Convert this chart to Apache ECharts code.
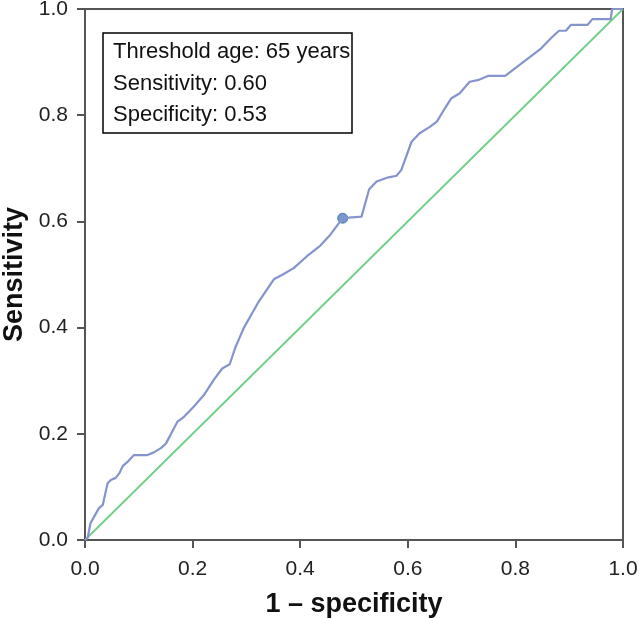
<!DOCTYPE html>
<html><head><meta charset="utf-8">
<script src="https://cdn.jsdelivr.net/npm/echarts@6/dist/echarts.min.js"></script>
<style>html,body{margin:0;padding:0;background:#fff}#c{width:639px;height:618px}</style>
</head><body><div id="c"></div>
<script>
var rocX = [0,0.005,0.010,0.017,0.026,0.033,0.042,0.048,0.057,0.064,0.070,0.079,0.091,0.116,0.128,0.141,0.150,0.159,0.172,0.184,0.202,0.221,0.239,0.255,0.269,0.280,0.295,0.323,0.351,0.366,0.388,0.412,0.437,0.456,0.479,0.514,0.528,0.542,0.564,0.579,0.588,0.607,0.622,0.641,0.654,0.669,0.681,0.696,0.715,0.730,0.749,0.781,0.795,0.820,0.848,0.866,0.881,0.894,0.903,0.934,0.943,0.977,0.980,1.0];
var rocY = [0,0.004,0.031,0.044,0.060,0.066,0.107,0.113,0.117,0.126,0.139,0.147,0.160,0.160,0.165,0.173,0.181,0.198,0.223,0.232,0.251,0.273,0.301,0.323,0.331,0.364,0.399,0.449,0.491,0.499,0.512,0.534,0.554,0.575,0.606,0.609,0.660,0.675,0.683,0.686,0.697,0.750,0.766,0.778,0.788,0.813,0.832,0.841,0.863,0.866,0.874,0.874,0.885,0.904,0.926,0.945,0.959,0.959,0.970,0.970,0.981,0.981,1.0,1.0];
var refX = [0,1];
var refY = [0,1];
var threshold = [0.479, 0.606];
var annotationLines = ['Threshold age: 65 years','Sensitivity: 0.60','Specificity: 0.53'];
var ticks = [0,0.2,0.4,0.6,0.8,1.0];

var FONT = 'Liberation Sans, Arial, sans-serif';
var chart = echarts.init(document.getElementById('c'), null, {renderer:'canvas'});
var axisCommon = {
  type:'value', min:0, max:1, interval:0.2,
  axisLine:{show:true, lineStyle:{color:'#555', width:2}},
  axisTick:{show:true, length:8, inside:false, lineStyle:{color:'#555', width:2}},
  splitLine:{show:false},
  axisLabel:{fontFamily:FONT, fontSize:21, color:'#222', formatter:function(v){return v.toFixed(1);}},
  nameTextStyle:{fontFamily:FONT, fontSize:27, fontWeight:'bold', color:'#111'}
};
chart.setOption({
  animation:false,
  grid:{left:85, right:16, top:9, bottom:78, containLabel:false, outerBoundsMode:'none',
        show:true, borderColor:'#555', borderWidth:2, backgroundColor:'#fff'},
  xAxis:Object.assign({}, axisCommon, {name:'1 – specificity', nameLocation:'middle', nameGap:51,
    axisLabel:Object.assign({}, axisCommon.axisLabel, {margin:19})}),
  yAxis:Object.assign({}, axisCommon, {name:'Sensitivity', nameLocation:'middle', nameGap:57,
    axisLabel:Object.assign({}, axisCommon.axisLabel, {margin:17})}),
  series:[
    {type:'line', data:refX.map(function(x,i){return [x, refY[i]];}), symbol:'none',
     lineStyle:{color:'#6fcf87', width:1.8}},
    {type:'line', data:rocX.map(function(x,i){return [x, rocY[i]];}), symbol:'none',
     lineStyle:{color:'#8594cd', width:2.2}},
    {type:'scatter', data:[threshold], symbolSize:10,
     itemStyle:{color:'#4d7fbc', borderColor:'#3a6aa3', borderWidth:1}}
  ],
  graphic:[
    {type:'rect', shape:{x:103, y:33, width:249, height:100}, style:{fill:'#fff', stroke:'#000', lineWidth:1.5}},
    {type:'text', x:113, y:52, style:{text:annotationLines[0], fontFamily:FONT, fontSize:22, fill:'#111', verticalAlign:'middle'}},
    {type:'text', x:113, y:84, style:{text:annotationLines[1], fontFamily:FONT, fontSize:22, fill:'#111', verticalAlign:'middle'}},
    {type:'text', x:113, y:115, style:{text:annotationLines[2], fontFamily:FONT, fontSize:22, fill:'#111', verticalAlign:'middle'}}
  ]
});
</script></body></html>
